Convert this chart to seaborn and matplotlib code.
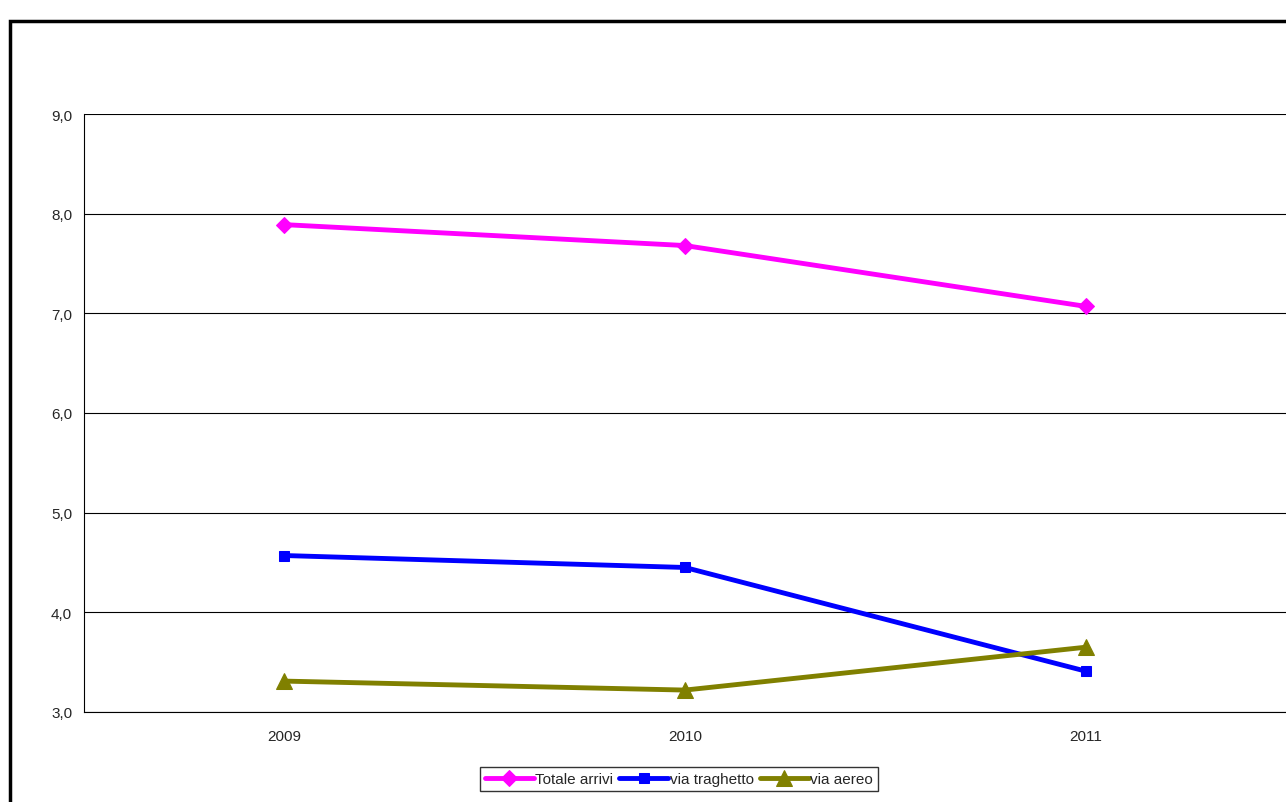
import matplotlib
matplotlib.use("Agg")
import matplotlib.pyplot as plt
import seaborn as sns
import pandas as pd

anni = ["2009", "2010", "2011"]
totale = [7.89, 7.68, 7.07]
traghetto = [4.57, 4.45, 3.41]
aereo = [3.31, 3.22, 3.65]

sns.set_style("white")
plt.rcParams['font.family'] = ['Liberation Sans', 'DejaVu Sans']

df = pd.DataFrame({"anno": anni * 3,
                   "valore": totale + traghetto + aereo,
                   "serie": ["Totale arrivi"] * 3 + ["via traghetto"] * 3 + ["via aereo"] * 3})

fig = plt.figure(figsize=(12.86, 8.03), dpi=100)
fig.patches.append(plt.Rectangle((10 / 1286, -0.01), 1.1, 1 - 22 / 803 + 0.01, transform=fig.transFigure,
                                 fill=False, edgecolor="black", linewidth=2.5))
ax = fig.add_axes([84 / 1286, 1 - 713 / 803, 1 - 84 / 1286, 598 / 803])
x = [0.5, 1.5, 2.5]
colors = {"Totale arrivi": "#ff00ff", "via traghetto": "#0000ff", "via aereo": "#808000"}
markers = {"Totale arrivi": "D", "via traghetto": "s", "via aereo": "^"}
sizes = {"Totale arrivi": 8, "via traghetto": 7, "via aereo": 11}
for s in ["Totale arrivi", "via traghetto", "via aereo"]:
    d = df[df.serie == s]
    sns.lineplot(x=x, y=d["valore"].to_list(), ax=ax, color=colors[s], linewidth=3.5,
                 marker=markers[s], markersize=sizes[s], markeredgecolor=colors[s], label=s)
ax.set_xlim(0, 3)
ax.set_ylim(3, 9)
ax.set_yticks([3, 4, 5, 6, 7, 8, 9])
ax.set_yticklabels([f"{v},0" for v in range(3, 10)], fontsize=11)
ax.set_xticks([0, 1, 2, 3])
ax.set_xticklabels([])
ax.set_xticks(x, minor=True)
ax.set_xticklabels(anni, minor=True, fontsize=11)
ax.tick_params(axis="x", which="minor", length=0, pad=12)
ax.tick_params(axis="x", which="major", direction="in", length=5, color="black")
ax.tick_params(axis="y", length=5, color="black", direction="out")
ax.grid(axis="y", color="black", linewidth=0.8)
for sp in ["top", "right"]:
    ax.spines[sp].set_visible(False)
for sp in ["left", "bottom"]:
    ax.spines[sp].set_color("black")
ax.legend(loc="upper center", bbox_to_anchor=(0.495, -0.08), ncol=3, frameon=True, fancybox=False,
          edgecolor="black", fontsize=11, handlelength=3.2, columnspacing=0.4, handletextpad=0.1,
          borderpad=0.3)
fig.savefig("out.png", dpi=100)
